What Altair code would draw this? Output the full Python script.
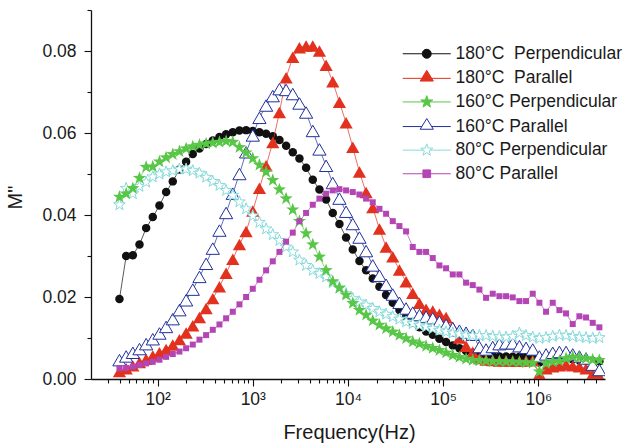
import altair as alt
import pandas as pd

# Measurement frequencies (Hz)
freq = [
    39.8, 46.8, 55.0, 64.6, 75.9, 89.1, 104.7, 123.0, 144.5, 169.8,
    199.5, 234.4, 275.4, 323.6, 380.2, 446.7, 524.8, 616.6, 724.4, 851.1,
    1000, 1175, 1380, 1622, 1905, 2239, 2630, 3090, 3631, 4266,
    5012, 5888, 6918, 8128, 9550, 11220, 13183, 15488, 18197, 21380,
    25119, 29512, 34674, 40738, 47863, 56234, 66069, 77625, 91201, 107152,
    125893, 147911, 173780, 204174, 239883, 281838, 331131, 389045, 457088, 537032,
    630957, 741310, 870964, 1023293, 1202264, 1412538, 1659587, 1949845, 2290868, 2691535,
    3162278, 3715352, 4365158,
]

# Electric modulus loss M'' for each sample / temperature
m180_perp = [
    0.0195, 0.0300, 0.0302, 0.0328, 0.0368, 0.0395, 0.0423, 0.0456, 0.0482, 0.0511,
    0.0530, 0.0549, 0.0562, 0.0573, 0.0582, 0.0590, 0.0597, 0.0602, 0.0606, 0.0607,
    0.0605, 0.0602, 0.0598, 0.0592, 0.0583, 0.0569, 0.0553, 0.0538, 0.0515, 0.0486,
    0.0462, 0.0438, 0.0405, 0.0378, 0.0345, 0.0316, 0.0288, 0.0265, 0.0245, 0.0225,
    0.0205, 0.0186, 0.0168, 0.0152, 0.0138, 0.0126, 0.0116, 0.0108, 0.0098, 0.0090,
    0.0082, 0.0075, 0.0068, 0.0064, 0.0060, 0.0058, 0.0056, 0.0055, 0.0055, 0.0054,
    0.0054, 0.0053, 0.0052, 0.0040, 0.0044, 0.0047, 0.0049, 0.0050, 0.0048, 0.0046,
    0.0045, 0.0044, 0.0043,
]
m180_para = [
    0.0018, 0.0025, 0.0032, 0.0040, 0.0048, 0.0056, 0.0064, 0.0072, 0.0083, 0.0096,
    0.0112, 0.0130, 0.0150, 0.0172, 0.0196, 0.0225, 0.0258, 0.0292, 0.0328, 0.0360,
    0.0410, 0.0465, 0.0520, 0.0577, 0.0650, 0.0735, 0.0785, 0.0808, 0.0812, 0.0812,
    0.0800, 0.0765, 0.0725, 0.0675, 0.0625, 0.0565, 0.0505, 0.0455, 0.0418, 0.0366,
    0.0322, 0.0298, 0.0266, 0.0237, 0.0209, 0.0185, 0.0170, 0.0166, 0.0158, 0.0150,
    0.0126, 0.0100, 0.0080, 0.0065, 0.0050, 0.0046, 0.0045, 0.0044, 0.0044, 0.0043,
    0.0043, 0.0044, 0.0045, 0.0012, 0.0025, 0.0030, 0.0032, 0.0035, 0.0032, 0.0030,
    0.0025, 0.0012, 0.0006,
]
m160_perp = [
    0.0444, 0.0452, 0.0465, 0.0490, 0.0517, 0.0518, 0.0530, 0.0540, 0.0548, 0.0555,
    0.0562, 0.0567, 0.0571, 0.0574, 0.0576, 0.0578, 0.0580, 0.0578, 0.0565, 0.0552,
    0.0538, 0.0522, 0.0505, 0.0485, 0.0462, 0.0440, 0.0413, 0.0385, 0.0355, 0.0328,
    0.0298, 0.0265, 0.0238, 0.0222, 0.0205, 0.0185, 0.0168, 0.0156, 0.0142, 0.0132,
    0.0123, 0.0115, 0.0107, 0.0099, 0.0091, 0.0086, 0.0080, 0.0075, 0.0070, 0.0064,
    0.0058, 0.0053, 0.0049, 0.0046, 0.0045, 0.0044, 0.0043, 0.0043, 0.0042, 0.0042,
    0.0041, 0.0040, 0.0039, 0.0018, 0.0038, 0.0042, 0.0044, 0.0050, 0.0054, 0.0052,
    0.0050, 0.0047, 0.0046,
]
m160_para = [
    0.0046, 0.0055, 0.0064, 0.0073, 0.0085, 0.0097, 0.0111, 0.0127, 0.0146, 0.0168,
    0.0192, 0.0218, 0.0249, 0.0281, 0.0318, 0.0362, 0.0405, 0.0452, 0.0500, 0.0553,
    0.0594, 0.0637, 0.0667, 0.0690, 0.0707, 0.0705, 0.0695, 0.0672, 0.0650, 0.0605,
    0.0560, 0.0520, 0.0478, 0.0440, 0.0408, 0.0378, 0.0345, 0.0312, 0.0277, 0.0252,
    0.0230, 0.0206, 0.0186, 0.0172, 0.0162, 0.0156, 0.0152, 0.0148, 0.0140, 0.0132,
    0.0124, 0.0118, 0.0113, 0.0108, 0.0078, 0.0072, 0.0078, 0.0085, 0.0087, 0.0087,
    0.0080, 0.0076, 0.0072, 0.0055, 0.0060, 0.0064, 0.0066, 0.0066, 0.0060, 0.0055,
    0.0050, 0.0035, 0.0022,
]
m80_perp = [
    0.0425, 0.0465, 0.0452, 0.0470, 0.0480, 0.0493, 0.0500, 0.0505, 0.0508, 0.0512,
    0.0512, 0.0508, 0.0502, 0.0492, 0.0482, 0.0472, 0.0460, 0.0448, 0.0432, 0.0415,
    0.0398, 0.0382, 0.0366, 0.0352, 0.0338, 0.0322, 0.0310, 0.0290, 0.0277, 0.0265,
    0.0257, 0.0249, 0.0235, 0.0222, 0.0208, 0.0196, 0.0188, 0.0180, 0.0172, 0.0164,
    0.0158, 0.0152, 0.0146, 0.0139, 0.0135, 0.0131, 0.0127, 0.0123, 0.0119, 0.0115,
    0.0112, 0.0110, 0.0107, 0.0106, 0.0106, 0.0106, 0.0104, 0.0103, 0.0102, 0.0104,
    0.0112, 0.0106, 0.0102, 0.0099, 0.0101, 0.0104, 0.0107, 0.0106, 0.0104, 0.0102,
    0.0101, 0.0099, 0.0101,
]
m80_para = [
    0.0026, 0.0027, 0.0030, 0.0034, 0.0038, 0.0042, 0.0047, 0.0054, 0.0061, 0.0067,
    0.0075, 0.0084, 0.0096, 0.0107, 0.0120, 0.0133, 0.0148, 0.0164, 0.0182, 0.0200,
    0.0220, 0.0242, 0.0265, 0.0287, 0.0310, 0.0335, 0.0357, 0.0385, 0.0405, 0.0425,
    0.0440, 0.0452, 0.0460, 0.0463, 0.0460, 0.0456, 0.0450, 0.0440, 0.0431, 0.0415,
    0.0403, 0.0385, 0.0373, 0.0360, 0.0322, 0.0310, 0.0310, 0.0295, 0.0277, 0.0270,
    0.0255, 0.0255, 0.0235, 0.0229, 0.0218, 0.0198, 0.0208, 0.0202, 0.0202, 0.0199,
    0.0190, 0.0190, 0.0208, 0.0186, 0.0164, 0.0186, 0.0168, 0.0160, 0.0134, 0.0153,
    0.0150, 0.0137, 0.0126,
]

# the second space is non-breaking so that it survives SVG whitespace collapsing
labels = [
    "180°C \u00a0Perpendicular",
    "180°C \u00a0Parallel",
    "160°C Perpendicular",
    "160°C Parallel",
    "80°C Perpendicular",
    "80°C Parallel",
]
values = [m180_perp, m180_para, m160_perp, m160_para, m80_perp, m80_para]
colors = ["#111111", "#e2311f", "#58c646", "#22309c", "#86dada", "#b445b4"]
fills = ["#111111", "#e2311f", "#58c646", "#ffffff", "#ffffff", "#b445b4"]

STAR = ("M0,-1L0.235,-0.324L0.951,-0.309L0.380,0.124L0.588,0.809L0,0.4"
        "L-0.588,0.809L-0.380,0.124L-0.951,-0.309L-0.235,-0.324Z")
shapes = ["circle", "triangle-up", STAR, "triangle-up", STAR, "square"]
sizes = [72, 175, 190, 175, 150, 36]
filled = [True, True, True, False, False, True]

# legend glyphs: a short line with the marker drawn on it
LEG_STAR = ("M-4,0L-0.57,0M0.57,0L4,0"
            "M0,-1.05L0.247,-0.340L0.999,-0.324L0.399,0.130L0.617,0.849L0,0.42"
            "L-0.617,0.849L-0.399,0.130L-0.999,-0.324L-0.247,-0.340Z")
LEG_TRI = "M-4,0L-0.82,0M0.82,0L4,0M0,-1.33L1.1,0.45L-1.1,0.45Z"
legend_shapes = [
    "M-4,0L-0.75,0M0.75,0L4,0M0.75,0A0.75,0.75,0,1,1,-0.75,0A0.75,0.75,0,1,1,0.75,0Z",
    LEG_TRI,
    LEG_STAR,
    LEG_TRI,
    LEG_STAR,
    "M-4,0L-0.64,0M0.64,0L4,0M-0.64,-0.64L0.64,-0.64L0.64,0.64L-0.64,0.64Z",
]

# axis ticks
x_major = [100, 1000, 10000, 100000, 1000000]
x_sup = ["10²", "10³", "10⁴", "10⁵", "10⁶"]
x_minor = [m * 10 ** e for e in range(1, 7) for m in range(2, 10)
           if 25 < m * 10 ** e < 5.0e6]
x_ticks = sorted(x_major + x_minor)
y_ticks = [0.00, 0.01, 0.02, 0.03, 0.04, 0.05, 0.06, 0.07, 0.08, 0.09]

FONT = "Liberation Sans"

x_label_expr = " : ".join(
    f"datum.value == {v} ? '{s}'" for v, s in zip(x_major, x_sup)
) + " : ''"

x_enc = alt.X(
    "freq:Q",
    scale=alt.Scale(type="log", domain=[20, 5.0e6], nice=False),
    axis=alt.Axis(
        values=x_ticks,
        labelExpr=x_label_expr,
        tickSize={"condition": {"test": f"indexof({x_major}, datum.value) >= 0",
                                "value": 7}, "value": 4},
        title="Frequency(Hz)",
        titleX=258,
        titleY=59,
        titleAlign="center",
        titleBaseline="alphabetic",
        labelPadding=4,
        labelFlush=False,
        labelOverlap=False,
    ),
)
y_enc = alt.Y(
    "m:Q",
    scale=alt.Scale(domain=[0, 0.09], nice=False),
    axis=alt.Axis(
        values=y_ticks,
        labelExpr="round(datum.value * 100) % 2 == 0 ? format(datum.value, '.2f') : ''",
        tickSize={"condition": {"test": "round(datum.value * 100) % 2 == 0",
                                "value": 7}, "value": 4},
        title='M"',
        titleX=-70,
        titleY=187,
        titleAngle=270,
        titleAlign="center",
        titleBaseline="alphabetic",
        labelPadding=8,
        labelFlush=False,
        labelOverlap=False,
    ),
)

# drawing order of the series (later ones on top)
draw_order = [0, 1, 3, 4, 2, 5]
layers = []
for i in draw_order:
    df = pd.DataFrame({"freq": freq, "m": values[i]})
    base = alt.Chart(df)
    layers.append(
        base.mark_line(strokeWidth=0.7, clip=True).encode(
            x=x_enc, y=y_enc, color=alt.value(colors[i])
        )
    )
    layers.append(
        base.mark_point(
            clip=True,
            opacity=1,
            filled=False,
            strokeWidth=0 if filled[i] else 1,
        ).encode(
            x=x_enc,
            y=y_enc,
            fill=alt.value(fills[i]),
            stroke=alt.value(colors[i]),
            shape=alt.value(shapes[i]),
            size=alt.value(sizes[i]),
        )
    )

leg = alt.Legend(
    title=None,
    orient="none",
    legendX=327,
    legendY=35,
    padding=0,
    labelFont=FONT,
    labelFontSize=17.5,
    labelColor="#1a1a1a",
    labelOffset=20,
    symbolSize=144,
    symbolStrokeWidth=1,
    rowPadding=4.6,
    labelLimit=400,
)
legend_df = pd.DataFrame({"series": labels, "freq": freq[:6], "m": m180_perp[:6]})
legend_layer = (
    alt.Chart(legend_df)
    .mark_point(opacity=1, filled=False, strokeWidth=1)
    .encode(
        fill=alt.Fill("series:N", scale=alt.Scale(domain=labels, range=fills), legend=leg),
        stroke=alt.Stroke("series:N", scale=alt.Scale(domain=labels, range=colors), legend=leg),
        shape=alt.Shape("series:N", scale=alt.Scale(domain=labels, range=legend_shapes), legend=leg),
    )
    .transform_filter("false")
)

chart = (
    alt.layer(*layers, legend_layer)
    .properties(
        width=514,
        height=369,
        autosize=alt.AutoSizeParams(type="none"),
        padding={"left": 91, "top": 10, "right": 24, "bottom": 67},
        background="white",
    )
    .configure_view(stroke=None)
    .configure_axis(
        grid=False,
        domainColor="#111111",
        domainWidth=1.3,
        tickColor="#111111",
        tickWidth=1.1,
        labelFont=FONT,
        labelFontSize=17.5,
        labelColor="#1a1a1a",
        titleFont=FONT,
        titleFontSize=20,
        titleFontWeight="normal",
        titleColor="#1a1a1a",
    )
)

chart.save("out.html", embed_options={"renderer": "svg", "actions": False})
